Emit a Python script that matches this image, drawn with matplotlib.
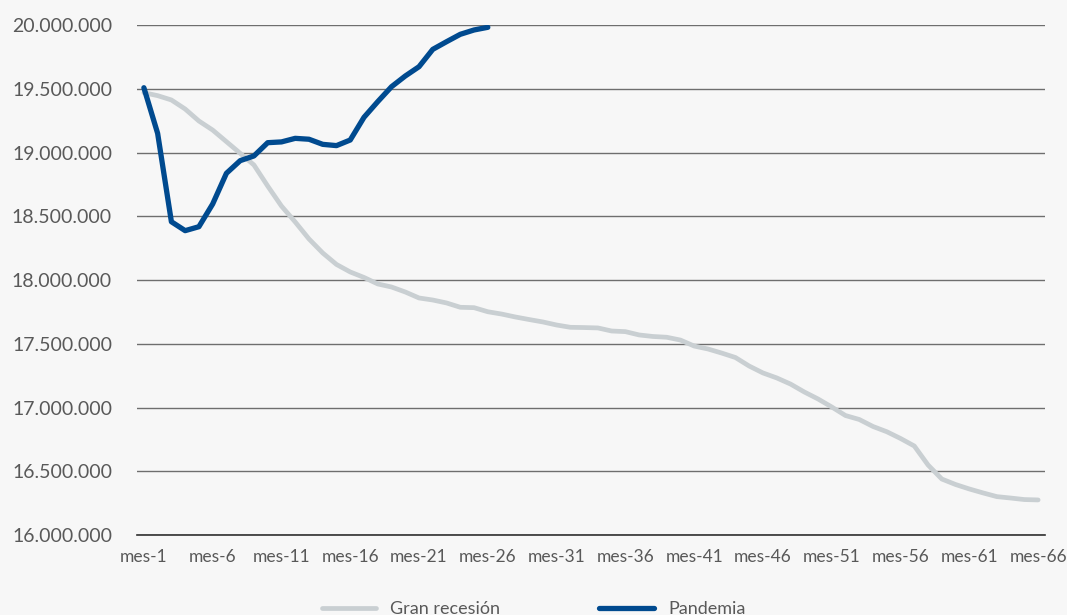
import matplotlib
matplotlib.use("Agg")
import matplotlib.pyplot as plt
from matplotlib.ticker import FuncFormatter, MultipleLocator

# monthly employment, thousands of people
meses = ["mes-%d" % i for i in range(1, 67)]

gran_recesion = [
    19469, 19446, 19412, 19341, 19247, 19176, 19085, 18994, 18902, 18737,
    18580, 18455, 18322, 18212, 18122, 18063, 18020, 17969, 17945, 17906,
    17859, 17843, 17820, 17786, 17783, 17751, 17733, 17710, 17690, 17671,
    17647, 17629, 17627, 17624, 17600, 17595, 17569, 17557, 17551, 17529,
    17482, 17459, 17427, 17392, 17325, 17271, 17232, 17184, 17122, 17067,
    17004, 16937, 16906, 16851, 16810, 16757, 16698, 16549, 16439, 16396,
    16361, 16330, 16301, 16290, 16278, 16275,
]

pandemia = [
    19508, 19150, 18457, 18387, 18418, 18596, 18837, 18936, 18973, 19077,
    19083, 19111, 19104, 19064, 19054, 19098, 19276, 19399, 19516, 19600,
    19673, 19809, 19869, 19927, 19961, 19982,
]

GRIS = "#c9cfd2"
AZUL = "#004a8f"
TEXTO = "#595959"

plt.rcParams["font.family"] = ["Lato", "DejaVu Sans"]

fig = plt.figure(figsize=(10.67, 6.15), dpi=100, facecolor="#f7f7f7")
ax = fig.add_axes([137 / 1067, 1 - 535 / 615, 908 / 1067, 510 / 615])
ax.set_facecolor("#f7f7f7")

x_gr = list(range(len(gran_recesion)))
x_pa = list(range(len(pandemia)))
ax.plot(x_gr, [v * 1000 for v in gran_recesion], color=GRIS, lw=3.4,
        solid_capstyle="round", label="Gran recesión", zorder=3)
ax.plot(x_pa, [v * 1000 for v in pandemia], color=AZUL, lw=3.8,
        solid_capstyle="round", label="Pandemia", zorder=4)

ax.set_xlim(-0.5, len(meses) - 0.5)
ax.set_ylim(16_000_000, 20_000_000)
ax.yaxis.set_major_locator(MultipleLocator(500_000))
ax.yaxis.set_major_formatter(
    FuncFormatter(lambda v, p: "{:,.0f}".format(v).replace(",", ".")))
ax.set_xticks(range(0, len(meses), 5))
ax.set_xticklabels(meses[::5])

ax.grid(axis="y", color="#6e6e6e", lw=1.0, zorder=1)
for s in ["top", "right", "left"]:
    ax.spines[s].set_visible(False)
ax.spines["bottom"].set_color("#303030")
ax.spines["bottom"].set_linewidth(1.2)
ax.tick_params(axis="both", length=0, colors=TEXTO)
ax.tick_params(axis="y", labelsize=14, pad=18)
ax.tick_params(axis="x", labelsize=12.5, pad=10)

fig.legend(loc="center", bbox_to_anchor=(0.5, 0.01), ncol=2, frameon=False,
           fontsize=13, handlelength=3.0, columnspacing=5.5,
           labelcolor=TEXTO)

fig.savefig("out.png", dpi=100, facecolor=fig.get_facecolor())
